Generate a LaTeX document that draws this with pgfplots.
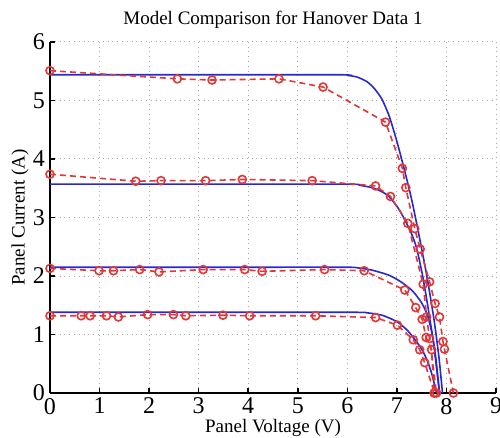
\documentclass[border=0pt]{standalone}
\usepackage{fontspec}
\setmainfont{Liberation Serif}
\usepackage{pgfplots}
\pgfplotsset{compat=1.18}
\definecolor{mblue}{RGB}{40,40,210}
\definecolor{mred}{RGB}{225,55,55}

\begin{document}
\begin{tikzpicture}
\begin{axis}[
  scale only axis,
  width=223pt, height=175.5pt,
  xmin=0, xmax=9, ymin=0, ymax=6,
  xtick={0,1,...,9}, ytick={0,1,...,6},
  axis x line=bottom, axis y line=left,
  axis line style={line width=1pt, -},
  tick style={black, line width=0.8pt},
  tick align=inside,
  major tick length=2.5pt,
  grid=major,
  major grid style={gray!70, dotted, line width=0.5pt},
  title={Model Comparison for Hanover Data 1},
  every axis title shift=0pt,
  title style={font=\fontsize{9.5}{11}\selectfont, at={(axis description cs:0.5,1.0627)}, anchor=center},
  xlabel={Panel Voltage (V)},
  ylabel={Panel Current (A)},
  label style={font=\fontsize{9.5}{11}\selectfont},
  xlabel style={at={(axis description cs:0.5,-0.0997)}, anchor=center},
  ylabel style={at={(axis description cs:-0.0673,0.5)}, anchor=center},
  tick label style={font=\fontsize{12}{13}\selectfont},
  /pgf/number format/assume math mode=true,
  xticklabel style={yshift=1pt},
  yticklabel style={xshift=1pt},
  clip=false,
]
% model curves
\addplot[mblue, line width=0.8pt, smooth, tension=0.4] coordinates {
(0,5.44) (3,5.44) (5.8,5.44) (6.0,5.43) (6.2,5.40) (6.4,5.32) (6.55,5.20) (6.7,5.02) (6.85,4.72) (7.0,4.30) (7.15,3.82) (7.3,3.30) (7.45,2.68) (7.6,2.02) (7.75,1.25) (7.85,0.60) (7.92,0)};
\addplot[mblue, line width=0.8pt, smooth, tension=0.4] coordinates {
(0,3.57) (3,3.57) (6.0,3.57) (6.25,3.55) (6.5,3.51) (6.7,3.44) (6.85,3.35) (7.05,3.13) (7.26,2.79) (7.39,2.50) (7.52,2.00) (7.64,1.40) (7.75,0.78) (7.86,0)};
\addplot[mblue, line width=0.8pt, smooth, tension=0.4] coordinates {
(0,2.15) (3,2.15) (5.9,2.15) (6.2,2.14) (6.5,2.10) (6.85,2.01) (7.1,1.89) (7.32,1.74) (7.5,1.54) (7.62,1.32) (7.72,0.98) (7.79,0.56) (7.86,0)};
\addplot[mblue, line width=0.8pt, smooth, tension=0.4] coordinates {
(0,1.38) (3,1.38) (6.1,1.38) (6.4,1.37) (6.7,1.33) (7.0,1.22) (7.2,1.08) (7.35,0.93) (7.5,0.75) (7.6,0.58) (7.7,0.34) (7.8,0)};
% measured data
\addplot[mred, line width=0.8pt, dash pattern=on 3pt off 2pt, mark=o, mark size=2pt, mark options={solid}] coordinates {
(0,5.51) (2.57,5.37) (3.27,5.35) (4.62,5.37) (5.51,5.23) (6.77,4.63) (7.11,3.84) (7.18,3.51) (7.36,2.81) (7.47,2.46) (7.66,1.90) (7.77,1.53) (7.86,1.30) (7.93,0.88) (7.96,0.75) (8.14,0)};
\addplot[mred, line width=0.8pt, dash pattern=on 3pt off 2pt, mark=o, mark size=2pt, mark options={solid}] coordinates {
(0,3.74) (1.73,3.62) (2.24,3.63) (3.14,3.63) (3.88,3.65) (5.29,3.63) (6.57,3.54) (6.87,3.36) (7.22,2.90) (7.53,1.86) (7.60,1.30) (7.66,0.93) (7.80,0)};
\addplot[mred, line width=0.8pt, dash pattern=on 3pt off 2pt, mark=o, mark size=2pt, mark options={solid}] coordinates {
(0,2.13) (0.99,2.09) (1.28,2.09) (1.81,2.11) (2.20,2.07) (3.09,2.11) (3.93,2.11) (4.28,2.08) (5.54,2.11) (6.34,2.09) (7.16,1.76) (7.38,1.46) (7.51,1.26) (7.59,0.95) (7.70,0.74) (7.75,0)};
\addplot[mred, line width=0.8pt, dash pattern=on 3pt off 2pt, mark=o, mark size=2pt, mark options={solid}] coordinates {
(0,1.32) (0.63,1.32) (0.81,1.32) (1.14,1.32) (1.38,1.30) (1.97,1.34) (2.49,1.34) (2.74,1.32) (3.49,1.33) (4.03,1.32) (5.36,1.32) (6.57,1.29) (7.01,1.16) (7.33,0.91) (7.46,0.74) (7.56,0.52) (7.76,0)};
\end{axis}
\pgfresetboundingbox
\useasboundingbox ([shift={(-25pt,-22pt)}]current axis.south west) rectangle ([shift={(2pt,21pt)}]current axis.north east);
\end{tikzpicture}
\end{document}
